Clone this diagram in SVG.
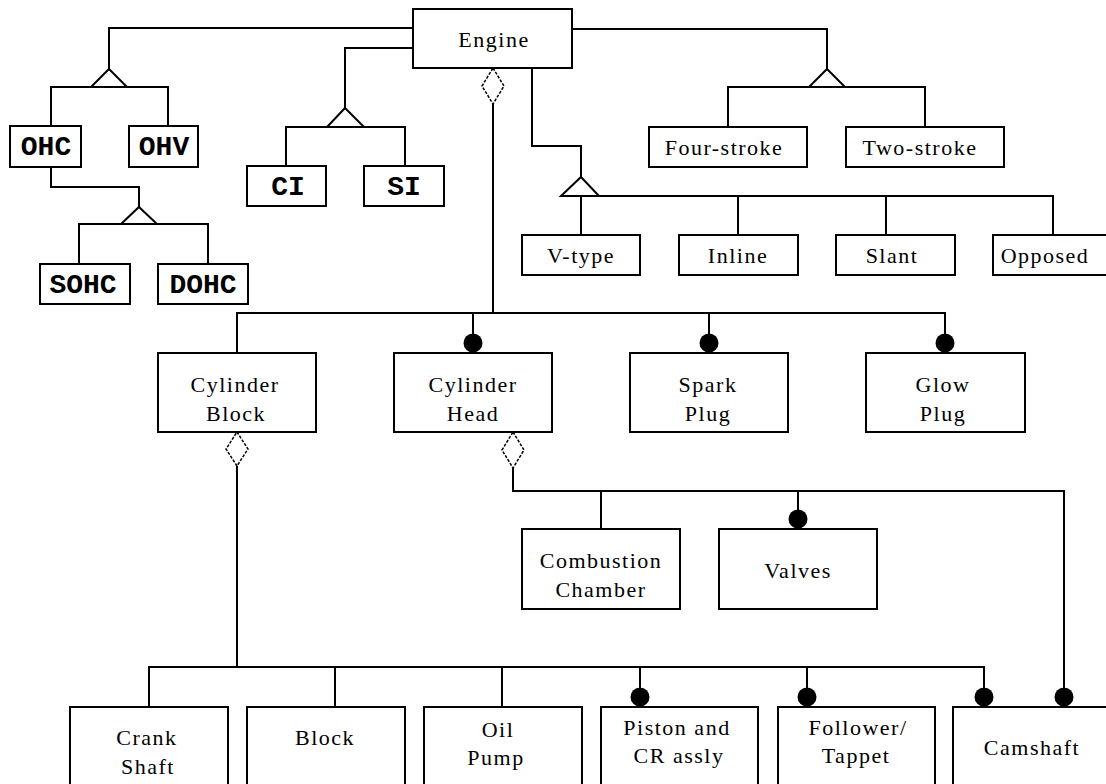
<svg xmlns="http://www.w3.org/2000/svg" width="1106" height="784" viewBox="0 0 1106 784">
<style>
.box{fill:#fff;stroke:#000;stroke-width:2}
.ln{fill:none;stroke:#000;stroke-width:2}
.tri{fill:#fff;stroke:#000;stroke-width:2}
.dia{fill:#fff;stroke:#000;stroke-width:1.5;stroke-dasharray:3 1.5}
.dot{fill:#000}
.t{font-family:"Liberation Serif","Times New Roman",serif;font-size:22px;letter-spacing:1.5px;text-anchor:middle;fill:#000}
.m{font-family:"Liberation Mono","Courier New",monospace;font-size:28px;font-weight:bold;text-anchor:middle;fill:#000}
</style>
<rect width="1106" height="784" fill="#fff"/>
<g id="connectors">
<!-- Engine to OHC/OHV -->
<polyline class="ln" points="413,28 109,28 109,69"/>
<polyline class="ln" points="51,126 51,87 168,87 168,126"/>
<polygon class="tri" points="109,69 127,87 91,87"/>
<!-- OHC to SOHC/DOHC -->
<polyline class="ln" points="51,167 51,187 139,187 139,207"/>
<polyline class="ln" points="79,264 79,224 208,224 208,264"/>
<polygon class="tri" points="139,207 157,224 121,224"/>
<!-- Engine to CI/SI -->
<polyline class="ln" points="413,48 345,48 345,108"/>
<polyline class="ln" points="286,166 286,127 405,127 405,166"/>
<polygon class="tri" points="345,108 364,127 327,127"/>
<!-- Engine to Four/Two stroke -->
<polyline class="ln" points="572,29 827,29 827,69"/>
<polyline class="ln" points="728,127 728,87 925,87 925,127"/>
<polygon class="tri" points="827,69 845,87 809,87"/>
<!-- Engine to cylinder arrangement -->
<polyline class="ln" points="532,68 532,146 581,146 581,177"/>
<polyline class="ln" points="561,196 1053,196 1053,235"/>
<line class="ln" x1="581" y1="196" x2="581" y2="235"/>
<line class="ln" x1="738" y1="196" x2="738" y2="235"/>
<line class="ln" x1="886" y1="196" x2="886" y2="235"/>
<polygon class="tri" points="581,177 599,196 561,196"/>
<!-- Engine aggregation -->
<line class="ln" x1="493" y1="104" x2="493" y2="313"/>
<polygon class="dia" points="493,68 504,86 493,104 482,86"/>
<polyline class="ln" points="237,353 237,313 945,313 945,343"/>
<line class="ln" x1="473" y1="313" x2="473" y2="343"/>
<line class="ln" x1="709" y1="313" x2="709" y2="343"/>
<circle class="dot" cx="473" cy="343" r="9.5"/>
<circle class="dot" cx="709" cy="343" r="9.5"/>
<circle class="dot" cx="945" cy="343" r="9.5"/>
<!-- Cylinder Head aggregation -->
<polyline class="ln" points="513,468 513,491 1064,491 1064,697"/>
<line class="ln" x1="601" y1="491" x2="601" y2="529"/>
<line class="ln" x1="798" y1="491" x2="798" y2="519"/>
<polygon class="dia" points="513,432 524,450 513,468 502,450"/>
<circle class="dot" cx="798" cy="519" r="9.5"/>
<circle class="dot" cx="1064" cy="697" r="9.5"/>
<!-- Cylinder Block aggregation -->
<line class="ln" x1="237" y1="466" x2="237" y2="667"/>
<polygon class="dia" points="237,432 248,449 237,466 226,449"/>
<polyline class="ln" points="149,707 149,667 984,667 984,697"/>
<line class="ln" x1="335" y1="667" x2="335" y2="707"/>
<line class="ln" x1="502" y1="667" x2="502" y2="707"/>
<line class="ln" x1="640" y1="667" x2="640" y2="697"/>
<line class="ln" x1="807" y1="667" x2="807" y2="697"/>
<circle class="dot" cx="640" cy="697" r="9.5"/>
<circle class="dot" cx="807" cy="697" r="9.5"/>
<circle class="dot" cx="984" cy="697" r="9.5"/>
</g>
<g id="engine"><rect class="box" x="413" y="9" width="159" height="59"/><text class="t" x="494" y="47">Engine</text></g>
<g id="ohc"><rect class="box" x="10" y="126" width="71" height="41"/><text class="m" x="46" y="155">OHC</text></g>
<g id="ohv"><rect class="box" x="129" y="126" width="69" height="41"/><text class="m" x="164" y="155">OHV</text></g>
<g id="sohc"><rect class="box" x="40" y="264" width="90" height="40"/><text class="m" x="83" y="293">SOHC</text></g>
<g id="dohc"><rect class="box" x="158" y="264" width="90" height="40"/><text class="m" x="203" y="293">DOHC</text></g>
<g id="ci"><rect class="box" x="247" y="166" width="79" height="40"/><text class="m" x="288" y="195">CI</text></g>
<g id="si"><rect class="box" x="364" y="166" width="80" height="40"/><text class="m" x="404" y="195">SI</text></g>
<g id="four-stroke"><rect class="box" x="649" y="127" width="158" height="40"/><text class="t" x="724" y="155">Four-stroke</text></g>
<g id="two-stroke"><rect class="box" x="846" y="127" width="158" height="40"/><text class="t" x="920" y="155">Two-stroke</text></g>
<g id="v-type"><rect class="box" x="522" y="235" width="118" height="40"/><text class="t" x="581" y="263">V-type</text></g>
<g id="inline"><rect class="box" x="679" y="235" width="119" height="40"/><text class="t" x="738" y="263">Inline</text></g>
<g id="slant"><rect class="box" x="836" y="235" width="119" height="40"/><text class="t" x="892" y="263">Slant</text></g>
<g id="opposed"><rect class="box" x="993" y="235" width="119" height="40"/><text class="t" x="1045" y="263">Opposed</text></g>
<g id="cylinder-block"><rect class="box" x="158" y="353" width="158" height="79"/><text class="t" x="235" y="392">Cylinder</text><text class="t" x="236" y="421">Block</text></g>
<g id="cylinder-head"><rect class="box" x="394" y="353" width="158" height="79"/><text class="t" x="473" y="392">Cylinder</text><text class="t" x="473" y="421">Head</text></g>
<g id="spark-plug"><rect class="box" x="630" y="353" width="158" height="79"/><text class="t" x="708" y="392">Spark</text><text class="t" x="708" y="421">Plug</text></g>
<g id="glow-plug"><rect class="box" x="866" y="353" width="159" height="79"/><text class="t" x="943" y="392">Glow</text><text class="t" x="943" y="421">Plug</text></g>
<g id="combustion-chamber"><rect class="box" x="522" y="529" width="158" height="80"/><text class="t" x="601" y="568">Combustion</text><text class="t" x="601" y="597">Chamber</text></g>
<g id="valves"><rect class="box" x="719" y="529" width="158" height="80"/><text class="t" x="798" y="578">Valves</text></g>
<g id="crank-shaft"><rect class="box" x="70" y="707" width="158" height="81"/><text class="t" x="147" y="745">Crank</text><text class="t" x="148" y="774">Shaft</text></g>
<g id="block"><rect class="box" x="247" y="707" width="158" height="81"/><text class="t" x="325" y="745">Block</text></g>
<g id="oil-pump"><rect class="box" x="424" y="707" width="158" height="81"/><text class="t" x="498" y="737">Oil</text><text class="t" x="496" y="765">Pump</text></g>
<g id="piston-cr"><rect class="box" x="601" y="707" width="157" height="81"/><text class="t" x="677" y="735">Piston and</text><text class="t" x="679" y="763">CR assly</text></g>
<g id="follower-tappet"><rect class="box" x="778" y="707" width="157" height="81"/><text class="t" x="858" y="735">Follower/</text><text class="t" x="856" y="763">Tappet</text></g>
<g id="camshaft"><rect class="box" x="953" y="707" width="158" height="81"/><text class="t" x="1032" y="755">Camshaft</text></g>
</svg>
